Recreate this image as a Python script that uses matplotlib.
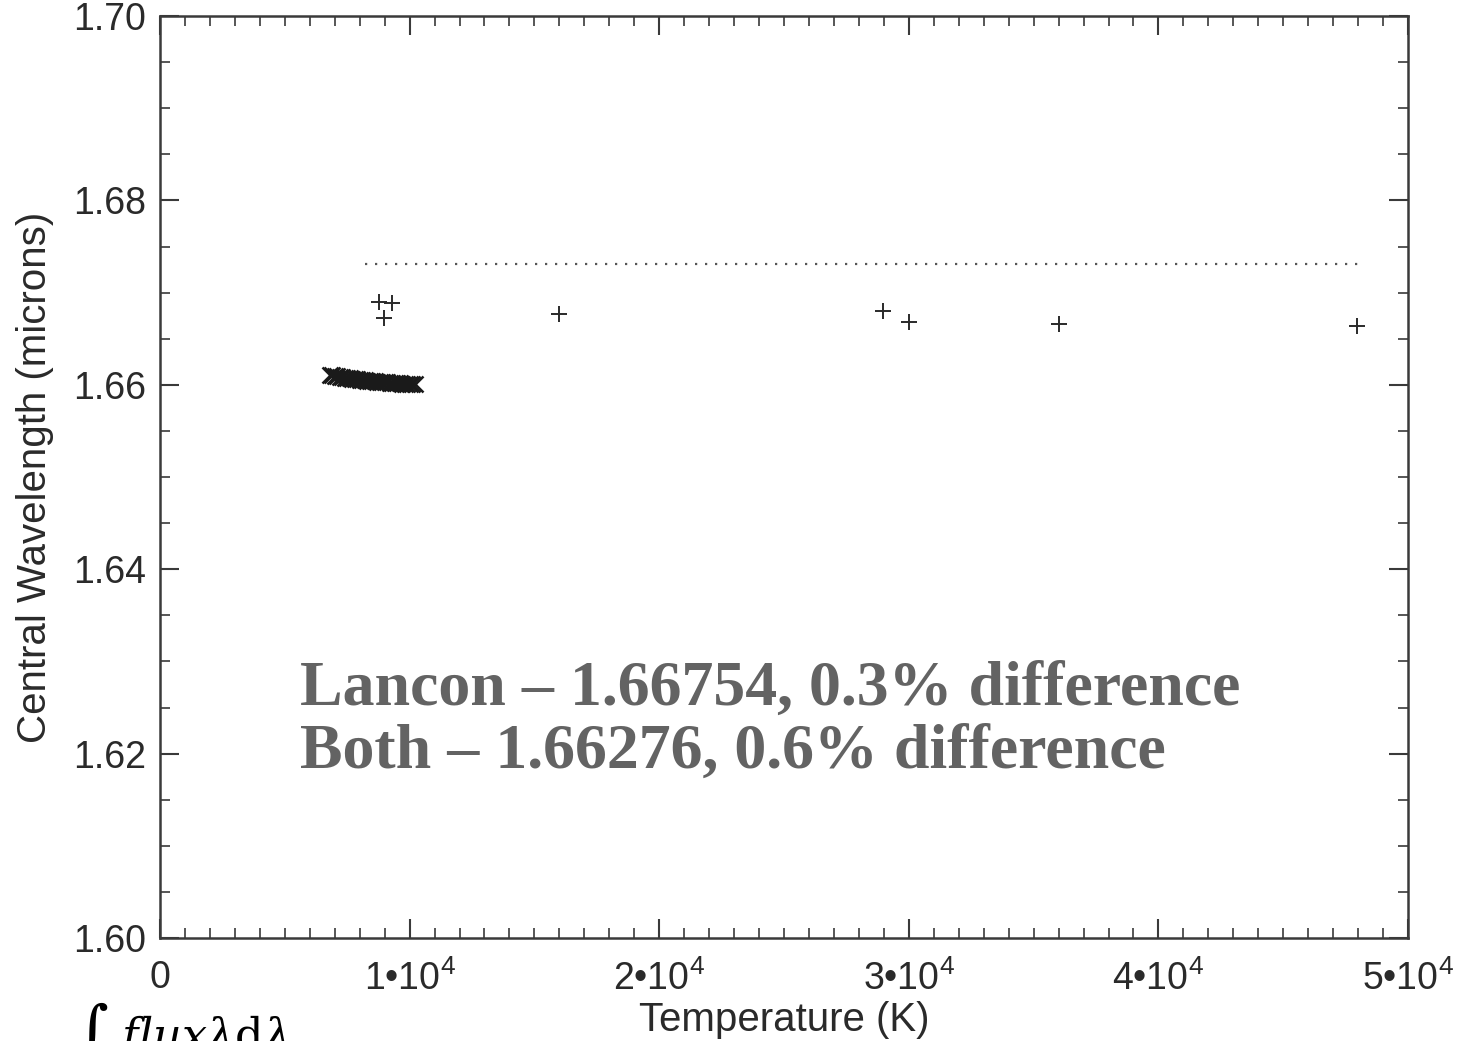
import numpy as np
import matplotlib.pyplot as plt
from matplotlib.ticker import MultipleLocator

# Messwerte: Zentralwellenlänge in Abhängigkeit der Temperatur
# Kühle Sterne (dichte Folge, Symbol x)
temp_kuehl = [6800, 6900, 7000, 7100, 7200, 7300, 7400, 7500, 7600, 7700,
              7800, 7900, 8000, 8100, 8200, 8300, 8400, 8500, 8600, 8700,
              8800, 8900, 9000, 9100, 9200, 9300, 9400, 9500, 9600, 9700,
              9800, 9900, 10000, 10100, 10200]
lam_kuehl = [1.66108, 1.66102, 1.66096, 1.66091, 1.66086, 1.66081, 1.66077,
             1.66073, 1.66069, 1.66065, 1.66061, 1.66058, 1.66054, 1.66051,
             1.66048, 1.66045, 1.66042, 1.66040, 1.66037, 1.66035, 1.66032,
             1.66030, 1.66028, 1.66026, 1.66024, 1.66022, 1.66020, 1.66018,
             1.66016, 1.66014, 1.66012, 1.66010, 1.66008, 1.66006, 1.66004]

# Heiße Sterne (Symbol +)
temp_heiss = [8770, 9300, 8970, 16000, 28950, 30000, 36000, 47950]
lam_heiss = [1.66898, 1.66888, 1.66725, 1.66768, 1.66800, 1.66681, 1.66660,
             1.66638]

# Referenzwert (gepunktete Linie)
temp_ref = [8200, 48000]
lam_ref = [1.67310, 1.67310]

xticks = [0, 10000, 20000, 30000, 40000, 50000]
xticklabels = ['0', r'1•10$^{4}$', r'2•10$^{4}$', r'3•10$^{4}$',
               r'4•10$^{4}$', r'5•10$^{4}$']
yticks = [1.60, 1.62, 1.64, 1.66, 1.68, 1.70]

text_zeilen = ['Lancon – 1.66754, 0.3% difference',
               'Both – 1.66276, 0.6% difference']

plt.rcParams['font.family'] = 'Liberation Sans'
plt.rcParams['mathtext.fontset'] = 'custom'
plt.rcParams['mathtext.rm'] = 'Liberation Sans'
plt.rcParams['mathtext.it'] = 'Liberation Sans'

fig = plt.figure(figsize=(14.69, 10.41), dpi=100)
ax = fig.add_axes([0.1089, 0.0989, 0.8496, 0.8857])

achsenfarbe = '#3a3a3a'
ax.plot(temp_kuehl, lam_kuehl, linestyle='none', marker='x',
        markersize=11, markeredgewidth=1.8, color='#1a1a1a')
ax.plot(temp_heiss, lam_heiss, linestyle='none', marker='+',
        markersize=11, markeredgewidth=1.4, color='#2a2a2a')
ax.plot(temp_ref, lam_ref, linestyle=(0, (1, 3.5)), linewidth=1.6,
        color='#555555')

ax.set_xlim(0, 50000)
ax.set_ylim(1.60, 1.70)
ax.set_xticks(xticks)
ax.set_xticklabels(xticklabels)
ax.set_yticks(yticks)
ax.set_yticklabels(['%.2f' % y for y in yticks])
ax.xaxis.set_minor_locator(MultipleLocator(1000))
ax.yaxis.set_minor_locator(MultipleLocator(0.005))

ax.tick_params(which='both', direction='in', top=True, right=True,
               colors=achsenfarbe, labelcolor='#2a2a2a', labelsize=27)
ax.tick_params(which='major', length=14, width=1.5)
ax.tick_params(axis='x', which='major', pad=16)
ax.tick_params(axis='y', which='major', pad=10)
ax.tick_params(which='minor', length=7, width=1.2)
for spine in ax.spines.values():
    spine.set_linewidth(1.8)
    spine.set_color(achsenfarbe)

ax.set_xlabel('Temperature (K)', fontsize=29, color='#2a2a2a', labelpad=2)
ax.set_ylabel('Central Wavelength (microns)', fontsize=29, color='#2a2a2a',
              labelpad=14)

# Ergebnisse als Beschriftung im Diagramm
ax.text(0.112, 0.2527, text_zeilen[0], transform=ax.transAxes,
        fontsize=46, fontweight='bold', family='Liberation Serif',
        color='#636363', va='baseline')
ax.text(0.112, 0.1844, text_zeilen[1], transform=ax.transAxes,
        fontsize=46, fontweight='bold', family='Liberation Serif',
        color='#636363', va='baseline')

# angeschnittene Formel am unteren Rand
fig.text(0.051, 0.039, r'∫ $flux\lambda\mathrm{d}\lambda$',
         fontsize=32, family='DejaVu Serif', math_fontfamily='dejavuserif',
         color='black', va='top')

fig.savefig('out.png', dpi=100)
